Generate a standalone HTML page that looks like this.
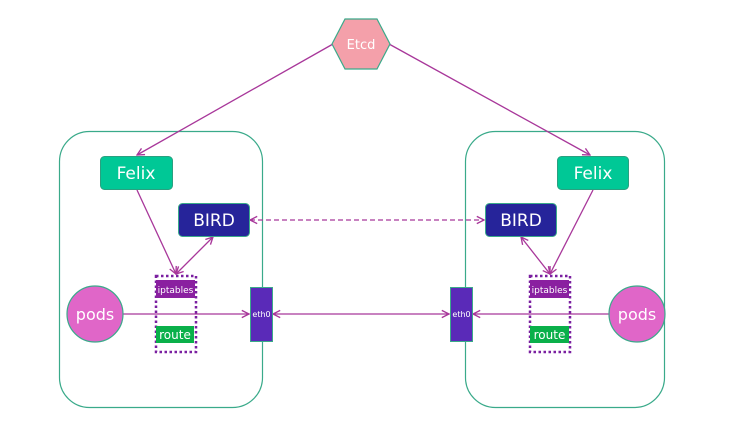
<!DOCTYPE html>
<html><head><meta charset="utf-8"><style>
html,body{margin:0;padding:0;background:#fff;width:755px;height:430px;overflow:hidden}
svg{display:block}
text{font-family:"DejaVu Sans","Liberation Sans",sans-serif;fill:#fff}
</style></head><body>
<svg width="755" height="430" viewBox="0 0 755 430" xmlns="http://www.w3.org/2000/svg">
<defs>
<marker id="a" viewBox="0 0 10 10" refX="9" refY="5" markerWidth="9" markerHeight="9" orient="auto-start-reverse" markerUnits="userSpaceOnUse">
<path d="M1,1 L9,5 L1,9" fill="none" stroke="#a8379a" stroke-width="1.5"/>
</marker>
</defs>
<!-- containers -->
<rect x="59.5" y="131.5" width="203" height="276" rx="30" fill="none" stroke="#3aaa8a" stroke-width="1.2"/>
<rect x="465.5" y="131.5" width="199" height="276" rx="30" fill="none" stroke="#3aaa8a" stroke-width="1.2"/>

<!-- connectors -->
<g stroke="#a8379a" stroke-width="1.3" fill="none">
<line x1="333" y1="44" x2="137" y2="155" marker-end="url(#a)"/>
<line x1="389" y1="44" x2="590" y2="155" marker-end="url(#a)"/>
<line x1="137" y1="190" x2="176" y2="274" marker-end="url(#a)"/>
<line x1="176" y1="274" x2="213" y2="237" marker-start="url(#a)" marker-end="url(#a)"/>
<line x1="593" y1="190" x2="550" y2="274" marker-end="url(#a)"/>
<line x1="550" y1="274" x2="521" y2="237" marker-start="url(#a)" marker-end="url(#a)"/>
<line x1="250" y1="220" x2="484" y2="220" stroke-dasharray="5,3" marker-start="url(#a)" marker-end="url(#a)"/>
<line x1="123" y1="314" x2="249" y2="314" marker-end="url(#a)"/>
<line x1="273" y1="314" x2="449" y2="314" marker-start="url(#a)" marker-end="url(#a)"/>
<line x1="609" y1="314" x2="473" y2="314" marker-end="url(#a)"/>
</g>

<!-- Etcd -->
<polygon points="332,44 345,19 377,19 390,44 377,69 345,69" fill="#f4a0aa" stroke="#3aaa8a" stroke-width="1.2"/>
<text x="361" y="49" font-size="13" text-anchor="middle">Etcd</text>

<!-- Felix -->
<rect x="100.5" y="156.5" width="72" height="33" rx="4" fill="#00c896" stroke="#2aa080"/>
<text x="136" y="179" font-size="17" text-anchor="middle">Felix</text>
<rect x="557.5" y="156.5" width="71" height="33" rx="4" fill="#00c896" stroke="#2aa080"/>
<text x="593" y="179" font-size="17" text-anchor="middle">Felix</text>

<!-- BIRD -->
<rect x="178.5" y="203.5" width="71" height="33" rx="4" fill="#26249a" stroke="#3aaa8a"/>
<text x="214" y="226" font-size="17" text-anchor="middle">BIRD</text>
<rect x="485.5" y="203.5" width="71" height="33" rx="4" fill="#26249a" stroke="#3aaa8a"/>
<text x="521" y="226" font-size="17" text-anchor="middle">BIRD</text>

<!-- dotted boxes -->
<rect x="156" y="276" width="40" height="76" fill="none" stroke="#7a1fa0" stroke-width="2.5" stroke-dasharray="2.5,2.5"/>
<rect x="530" y="276" width="40" height="76" fill="none" stroke="#7a1fa0" stroke-width="2.5" stroke-dasharray="2.5,2.5"/>
<rect x="156" y="280" width="39" height="18" fill="#8a20a0"/>
<text x="175.5" y="293" font-size="9" text-anchor="middle">iptables</text>
<rect x="530" y="280" width="39" height="18" fill="#8a20a0"/>
<text x="549.5" y="293" font-size="9" text-anchor="middle">iptables</text>
<rect x="156" y="326" width="38" height="17" fill="#0ab04a"/>
<text x="175" y="339" font-size="12" text-anchor="middle">route</text>
<rect x="530" y="326" width="39" height="17" fill="#0ab04a"/>
<text x="549.5" y="339" font-size="12" text-anchor="middle">route</text>

<!-- pods -->
<circle cx="95" cy="314" r="28" fill="#e066c8" stroke="#3aaa8a" stroke-width="1.2"/>
<text x="95" y="320" font-size="16" text-anchor="middle">pods</text>
<circle cx="637" cy="314" r="28" fill="#e066c8" stroke="#3aaa8a" stroke-width="1.2"/>
<text x="637" y="320" font-size="16" text-anchor="middle">pods</text>

<!-- eth0 -->
<rect x="250.5" y="287.5" width="22" height="54" fill="#5a2ab8" stroke="#3aaa8a"/>
<text x="261.5" y="317" font-size="8" text-anchor="middle">eth0</text>
<rect x="450.5" y="287.5" width="22" height="54" fill="#5a2ab8" stroke="#3aaa8a"/>
<text x="461.5" y="317" font-size="8" text-anchor="middle">eth0</text>
</svg>
</body></html>
